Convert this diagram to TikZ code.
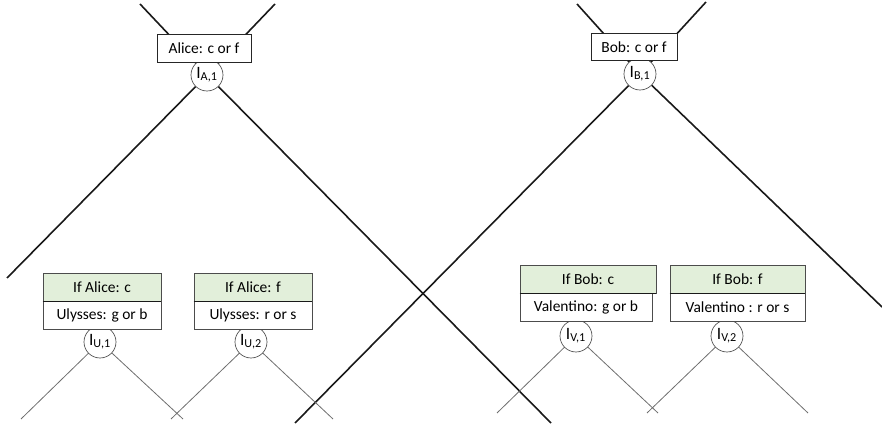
\documentclass[tikz,border=0pt]{standalone}
\usepackage{fontspec}
\setmainfont{Carlito}
\pgfdeclarelayer{background}
\pgfsetlayers{background,main}
\definecolor{boxgreen}{HTML}{E2EFDA}
\definecolor{thinline}{HTML}{6E6E6E}
\tikzset{
  lbl/.style={font=\fontsize{11.6}{14}\selectfont, text=black},
  bigline/.style={draw=black!90, line width=1.2pt},
  smallline/.style={draw=thinline, line width=0.6pt},
  infoset/.style={font=\fontsize{13}{14}\selectfont, circle, draw=black!70, fill=white, line width=0.5pt, minimum size=24pt, inner sep=0pt},
  topbox/.style={lbl, rectangle, draw=black!85, fill=white, line width=0.6pt, inner sep=0pt, minimum height=20.5pt},
  condbox/.style={lbl, rectangle, draw=black!70, fill=boxgreen, line width=0.6pt, inner sep=0pt, minimum height=21pt},
  movebox/.style={lbl, rectangle, draw=black!70, fill=white, line width=0.6pt, inner sep=0pt, minimum height=21pt},
  divider/.style={draw=black!90, line width=1pt}
}
\begin{document}
\begin{tikzpicture}[x=0.75pt, y=-0.75pt]
\useasboundingbox (0,0) rectangle (882,427);

% information set circles
\node[infoset] (A1) at (207,75) {I\textsubscript{A,1}};
\node[infoset] (B1) at (640,74) {I\textsubscript{B,1}};
\node[infoset] (U1) at (100,342) {I\textsubscript{U,1}};
\node[infoset] (U2) at (251,342) {I\textsubscript{U,2}};
\node[infoset] (V1) at (576,336) {I\textsubscript{V,1}};
\node[infoset] (V2) at (727,336) {I\textsubscript{V,2}};

% top boxes
\node[topbox, minimum width=70.5pt] (alice) at (204,48.5) {Alice: c or f};
\node[topbox, minimum width=64.5pt] (bob) at (634,47) {Bob: c or f};

% lower boxes
\node[condbox, minimum width=88.5pt] (ac) at (102,287) {If Alice: c};
\node[movebox, minimum width=88.5pt] (uc) at (102,315) {Ulysses: g or b};
\node[condbox, minimum width=88.5pt] (af) at (253,287) {If Alice: f};
\node[movebox, minimum width=88.5pt] (uf) at (253,315) {Ulysses: r or s};

\node[condbox, minimum width=102pt] (bc) at (588,279) {If Bob: c};
\node[movebox, minimum width=99pt] (vc) at (586,307) {Valentino: g or b};
\node[condbox, minimum width=101.25pt] (bf) at (737.5,279) {If Bob: f};
\node[movebox, minimum width=101.25pt] (vf) at (737.5,307) {Valentino : r or s};

\draw[divider] (ac.south west) -- (ac.south east);
\draw[divider] (af.south west) -- (af.south east);
\draw[divider] (bc.south west) -- (bc.south east);
\draw[divider] (bf.south west) -- (bf.south east);

% free ends
\coordinate (aTL) at (140,4);
\coordinate (aTR) at (275,4);
\coordinate (bTL) at (577,4);
\coordinate (bTR) at (706,2);
\coordinate (aL) at (7,278);
\coordinate (aR) at (551,423);
\coordinate (bL) at (295,423);
\coordinate (bR) at (882,307);
\coordinate (u1L) at (21,419);
\coordinate (u1R) at (183,419);
\coordinate (u2L) at (171,419);
\coordinate (u2R) at (333,419);
\coordinate (v1L) at (497,413);
\coordinate (v1R) at (658,413);
\coordinate (v2L) at (647,413);
\coordinate (v2R) at (808,413);

\begin{pgfonlayer}{background}
\draw[bigline] (aTL) -- (A1.center);
\draw[bigline] (aTR) -- (A1.center);
\draw[bigline] (A1.center) -- (aL);
\draw[bigline] (A1.center) -- (aR);
\draw[bigline] (bTL) -- (B1.center);
\draw[bigline] (bTR) -- (B1.center);
\draw[bigline] (B1.center) -- (bL);
\draw[bigline] (B1.center) -- (bR);
\draw[smallline] (U1.center) -- (u1L);
\draw[smallline] (U1.center) -- (u1R);
\draw[smallline] (U2.center) -- (u2L);
\draw[smallline] (U2.center) -- (u2R);
\draw[smallline] (V1.center) -- (v1L);
\draw[smallline] (V1.center) -- (v1R);
\draw[smallline] (V2.center) -- (v2L);
\draw[smallline] (V2.center) -- (v2R);
\end{pgfonlayer}
\end{tikzpicture}
\end{document}
